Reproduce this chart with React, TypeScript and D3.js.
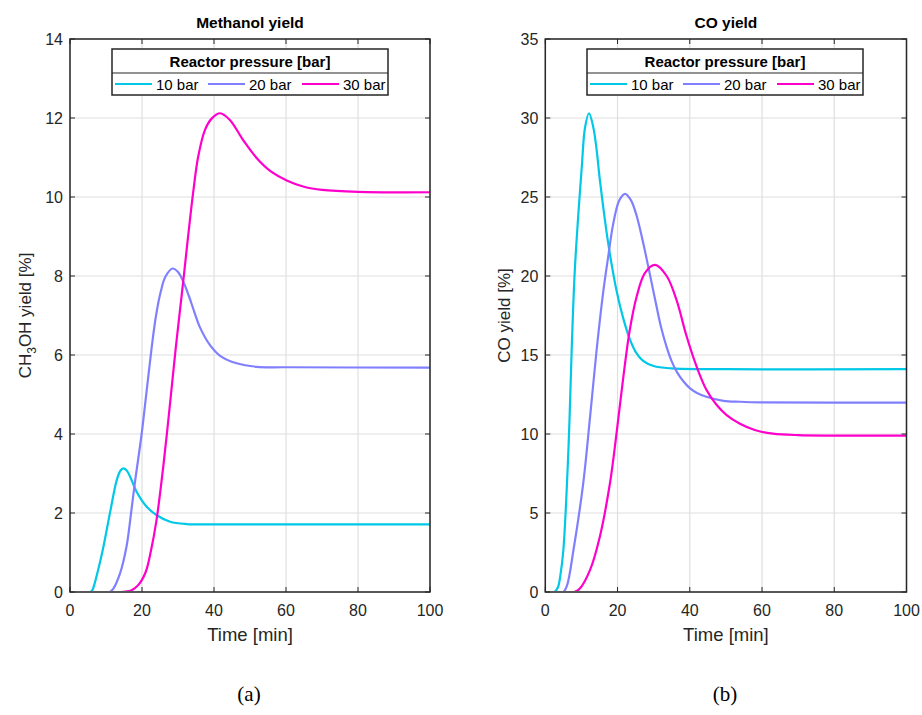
import React from "react";
import * as d3 from "d3";

// ---------- DATA ----------
const seriesNames = ["10 bar", "20 bar", "30 bar"];
const seriesColors = ["#00C8E6", "#8080FF", "#FF00CC"];
const legendTitle = "Reactor pressure [bar]";

const xTicks = [0, 20, 40, 60, 80, 100];
const yTicksMethanol = [0, 2, 4, 6, 8, 10, 12, 14];
const yTicksCO = [0, 5, 10, 15, 20, 25, 30, 35];

// Methanol yield (a)
const methTime10 = [0, 5, 5.6, 6.2, 6.8, 7.6, 8.4, 9.3, 11.1, 13, 14, 14.8, 15.7, 16.7, 18.5, 21.3, 24, 27.8, 32.4, 40, 60, 100];
const meth10 = [0, 0, 0, 0.05, 0.2, 0.48, 0.78, 1.15, 2.0, 2.84, 3.07, 3.13, 3.08, 2.92, 2.54, 2.16, 1.95, 1.78, 1.72, 1.71, 1.71, 1.71];

const methTime20 = [0, 10, 11, 12, 13.9, 15.7, 17.1, 18, 19.9, 21.3, 22.7, 23.9, 25.2, 26.5, 28.5, 30, 31.5, 33, 34.5, 36.1, 38.9, 41.7, 46.3, 51.9, 60, 100];
const meth20 = [0, 0, 0, 0.08, 0.47, 1.15, 2.1, 2.75, 4.0, 5.1, 6.2, 7.0, 7.6, 7.98, 8.19, 8.1, 7.85, 7.5, 7.1, 6.7, 6.25, 5.98, 5.79, 5.7, 5.69, 5.68];

const methTime30 = [0, 13, 14, 15.5, 17, 19, 21, 22.5, 24, 25.9, 27.8, 29.4, 31.5, 32.9, 34.3, 35.6, 37.5, 39.4, 41.7, 44.4, 48.1, 51.9, 55.6, 60.2, 65, 70, 80, 100];
const meth30 = [0, 0, 0, 0.01, 0.04, 0.18, 0.5, 1.05, 1.8, 3.17, 4.78, 6.2, 7.9, 9.08, 10.18, 11.02, 11.7, 11.99, 12.12, 11.95, 11.44, 10.98, 10.66, 10.42, 10.26, 10.18, 10.13, 10.12];

// CO yield (b)
const coTime10 = [0, 2, 2.5, 3.5, 4.2, 5, 6.4, 7.3, 8.2, 10.1, 11, 12.1, 13.3, 14.2, 15.1, 17.4, 19.7, 21.6, 23.4, 25, 27, 30, 35, 50, 100];
const co10 = [0, 0, 0, 0.3, 1.1, 2.66, 8.99, 15.3, 20.5, 26.9, 29.4, 30.3, 29.4, 28.0, 26.1, 22.1, 19.1, 17.3, 16.0, 15.2, 14.65, 14.3, 14.15, 14.1, 14.1];

const coTime20 = [0, 4, 5, 6, 7.8, 10.5, 12.4, 14.2, 16.1, 17.4, 18.8, 20.5, 22.1, 23.7, 25.3, 27, 28.5, 30.5, 32, 33.6, 35, 36.5, 38, 40, 42, 44.6, 49.3, 53.9, 60, 100];
const co20 = [0, 0, 0, 0.4, 2.66, 6.88, 11.1, 15.3, 19.1, 21.2, 23.3, 24.8, 25.2, 24.8, 23.8, 22.2, 20.6, 18.4, 16.8, 15.5, 14.6, 13.9, 13.4, 12.9, 12.6, 12.36, 12.1, 12.04, 12.0, 11.98];

const coTime30 = [0, 7, 8, 9.5, 12.4, 15.1, 17.9, 19.7, 21.6, 23.4, 25.3, 27.6, 30.4, 33.6, 36.3, 39.1, 41.9, 44.6, 47.4, 50.2, 53.9, 58, 63, 70, 100];
const co30 = [0, 0, 0, 0.2, 1.4, 3.5, 6.88, 10.0, 13.6, 16.6, 18.7, 20.2, 20.7, 20.0, 18.5, 16.2, 14.26, 12.8, 11.85, 11.2, 10.65, 10.25, 10.02, 9.93, 9.9];

// ---------- COMPONENTS ----------
const FONT = "'Liberation Sans', Arial, Helvetica, sans-serif";
const AXIS_COLOR = "#262626";
const GRID_COLOR = "#DFDFDF";

type Series = { t: number[]; v: number[] };

function Plot(props: {
  x0: number; x1: number; y0: number; y1: number;
  yMax: number; yTicks: number[];
  series: Series[];
  title: string;
  yLabel: React.ReactNode;
  yLabelX: number;
  legendX: number; legendY: number;
  caption: string;
}) {
  const { x0, x1, y0, y1, yMax, yTicks, series } = props;
  const xs = d3.scaleLinear().domain([0, 100]).range([x0, x1]);
  const ys = d3.scaleLinear().domain([0, yMax]).range([y0, y1]);
  const line = d3.line<[number, number]>()
    .x((d) => xs(d[0]))
    .y((d) => Math.min(y0, ys(d[1])))
    .curve(d3.curveCatmullRom.alpha(0.5));
  const tickLen = 5;
  const cx = (x0 + x1) / 2;
  const clipId = "clip" + props.caption.replace(/\W/g, "");

  const legW = 276, legH = 46, legDiv = 24;
  const lx = props.legendX, ly = props.legendY;
  const entryOffsets = [3, 96, 190];

  return (
    <g>
      <defs>
        <clipPath id={clipId}>
          <rect x={x0} y={y1 - 2} width={x1 - x0} height={y0 - y1 + 1.1} />
        </clipPath>
      </defs>
      {/* grid */}
      {xTicks.map((t) => (
        <line key={"gx" + t} x1={xs(t)} x2={xs(t)} y1={y0} y2={y1} stroke={GRID_COLOR} strokeWidth={1.2} />
      ))}
      {yTicks.map((t) => (
        <line key={"gy" + t} x1={x0} x2={x1} y1={ys(t)} y2={ys(t)} stroke={GRID_COLOR} strokeWidth={1.2} />
      ))}
      {/* curves */}
      <g clipPath={`url(#${clipId})`}>
        {series.map((s, i) => (
          <path
            key={"s" + i}
            d={line(s.t.map((t, k) => [t, s.v[k]] as [number, number])) || ""}
            fill="none"
            stroke={seriesColors[i]}
            strokeWidth={2.2}
          />
        ))}
      </g>
      {/* ticks */}
      {xTicks.map((t) => (
        <g key={"tx" + t}>
          <line x1={xs(t)} x2={xs(t)} y1={y0} y2={y0 - tickLen} stroke={AXIS_COLOR} strokeWidth={1} />
          <line x1={xs(t)} x2={xs(t)} y1={y1} y2={y1 + tickLen} stroke={AXIS_COLOR} strokeWidth={1} />
          <text x={xs(t)} y={y0 + 24} textAnchor="middle" fontFamily={FONT} fontSize={16} fill={AXIS_COLOR}>{t}</text>
        </g>
      ))}
      {yTicks.map((t) => (
        <g key={"ty" + t}>
          <line x1={x0} x2={x0 + tickLen} y1={ys(t)} y2={ys(t)} stroke={AXIS_COLOR} strokeWidth={1} />
          <line x1={x1} x2={x1 - tickLen} y1={ys(t)} y2={ys(t)} stroke={AXIS_COLOR} strokeWidth={1} />
          <text x={x0 - 7} y={ys(t) + 6} textAnchor="end" fontFamily={FONT} fontSize={16} fill={AXIS_COLOR}>{t}</text>
        </g>
      ))}
      {/* box */}
      <rect x={x0} y={y1} width={x1 - x0} height={y0 - y1} fill="none" stroke={AXIS_COLOR} strokeWidth={1.5} />
      {/* title */}
      <text x={cx} y={y1 - 11} textAnchor="middle" fontFamily={FONT} fontSize={15.5} fontWeight="bold" fill="#000">{props.title}</text>
      {/* x label */}
      <text x={cx} y={y0 + 49} textAnchor="middle" fontFamily={FONT} fontSize={18.5} fill={AXIS_COLOR}>Time [min]</text>
      {/* y label */}
      <text
        transform={`translate(${props.yLabelX},${(y0 + y1) / 2}) rotate(-90)`}
        textAnchor="middle" fontFamily={FONT} fontSize={17} fill={AXIS_COLOR}
      >{props.yLabel}</text>
      {/* legend */}
      <g>
        <rect x={lx} y={ly} width={legW} height={legH} fill="#fff" stroke={AXIS_COLOR} strokeWidth={1.5} />
        <line x1={lx} x2={lx + legW} y1={ly + legDiv} y2={ly + legDiv} stroke={AXIS_COLOR} strokeWidth={1.2} />
        <text x={lx + legW / 2} y={ly + 18} textAnchor="middle" fontFamily={FONT} fontSize={15} fontWeight="bold" fill="#000">{legendTitle}</text>
        {seriesNames.map((n, i) => (
          <g key={"lg" + i}>
            <line x1={lx + entryOffsets[i]} x2={lx + entryOffsets[i] + 37} y1={ly + 35} y2={ly + 35} stroke={seriesColors[i]} strokeWidth={2.2} />
            <text x={lx + entryOffsets[i] + 41} y={ly + 40.5} fontFamily={FONT} fontSize={15} fill="#000">{n}</text>
          </g>
        ))}
      </g>
      {/* caption */}
      <text x={cx - 1} y={701} textAnchor="middle" fontFamily="'Liberation Serif', 'Times New Roman', serif" fontSize={21} fill="#000">{props.caption}</text>
    </g>
  );
}

export default function App() {
  const methSeries: Series[] = [
    { t: methTime10, v: meth10 },
    { t: methTime20, v: meth20 },
    { t: methTime30, v: meth30 },
  ];
  const coSeries: Series[] = [
    { t: coTime10, v: co10 },
    { t: coTime20, v: co20 },
    { t: coTime30, v: co30 },
  ];
  return (
    <svg width={922} height={715} style={{ position: "absolute", left: 0, top: 0, background: "#fff" }}>
      <rect x={0} y={0} width={922} height={715} fill="#fff" />
      <Plot
        x0={70} x1={430} y0={592} y1={39}
        yMax={14} yTicks={yTicksMethanol}
        series={methSeries}
        title="Methanol yield"
        yLabel={<>CH<tspan dy={5} fontSize={12}>3</tspan><tspan dy={-5}>OH yield [%]</tspan></>}
        yLabelX={31}
        legendX={112} legendY={49}
        caption="(a)"
      />
      <Plot
        x0={545.3} x1={906.5} y0={592} y1={39}
        yMax={35} yTicks={yTicksCO}
        series={coSeries}
        title="CO yield"
        yLabel="CO yield [%]"
        yLabelX={510}
        legendX={587} legendY={49}
        caption="(b)"
      />
    </svg>
  );
}
